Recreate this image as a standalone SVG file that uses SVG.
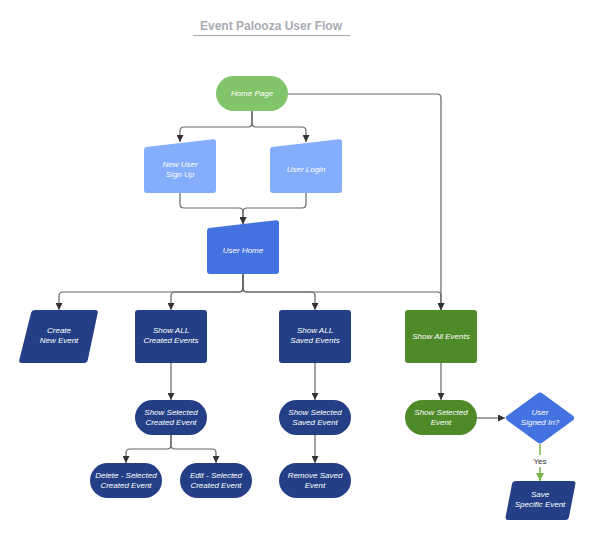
<svg xmlns="http://www.w3.org/2000/svg" width="594" height="538" viewBox="0 0 594 538">
<defs>
<marker id="arr" viewBox="0 0 10 10" refX="10" refY="5" markerWidth="7" markerHeight="7" markerUnits="userSpaceOnUse" orient="auto"><path d="M0,0 L10,5 L0,10 Z" fill="#333"/></marker>
<marker id="arrg" viewBox="0 0 10 10" refX="10" refY="5" markerWidth="8" markerHeight="8" markerUnits="userSpaceOnUse" orient="auto"><path d="M0,0 L10,5 L0,10 Z" fill="#7ab648"/></marker>
</defs>
<style>
.t{font-family:"Liberation Sans",Arial,sans-serif;font-size:8px;font-style:italic;fill:#fff;text-anchor:middle}
.c{fill:none;stroke:#666;stroke-width:1.2;marker-end:url(#arr)}
.lg{fill:#82c46a}.lb{fill:#84adfb}.mb{fill:#4472e0}.db{fill:#243f86}.gr{fill:#4f8a29}
</style>
<rect width="594" height="538" fill="#fff"/>
<g id="title">
<text x="271" y="30" font-family="Liberation Sans,Arial,sans-serif" font-size="12" font-weight="bold" fill="#a8abb2" text-anchor="middle">Event Palooza User Flow</text>
<line x1="193" y1="35.5" x2="350" y2="35.5" stroke="#a8abb2" stroke-width="1"/>
</g>
<g id="connectors">
<path class="c" d="M252,111 V123 Q252,127 248,127 H184 Q180,127 180,131 V142"/>
<path class="c" d="M252,111 V123 Q252,127 256,127 H302 Q306,127 306,131 V142"/>
<path class="c" d="M180,193 V204 Q180,208 184,208 H239 Q243,208 243,212 V224"/>
<path class="c" d="M306,193 V204 Q306,208 302,208 H247 Q243,208 243,212 V224"/>
<path class="c" d="M243,274 V288 Q243,292 239,292 H63 Q59,292 59,296 V310"/>
<path class="c" d="M243,274 V288 Q243,292 239,292 H175 Q171,292 171,296 V310"/>
<path class="c" d="M243,274 V288 Q243,292 247,292 H311 Q315,292 315,296 V310"/>
<path class="c" d="M243,274 V288 Q243,292 247,292 H437 Q441,292 441,296 V310"/>
<path class="c" d="M288,94 H437 Q441,94 441,98 V310"/>
<path class="c" d="M171,363 V400"/>
<path class="c" d="M315,363 V400"/>
<path class="c" d="M441,363 V400"/>
<path class="c" d="M171,435 V445 Q171,449 167,449 H130 Q126,449 126,453 V463"/>
<path class="c" d="M171,435 V445 Q171,449 175,449 H212 Q216,449 216,453 V463"/>
<path class="c" d="M315,435 V463"/>
<path class="c" d="M477,418 H505"/>
<path d="M540,444 V481" fill="none" stroke="#7ab648" stroke-width="1.5" marker-end="url(#arrg)"/>
<rect x="530" y="455" width="20" height="12" fill="#fff"/>
<text x="540" y="464" font-family="Liberation Sans,Arial,sans-serif" font-size="8" fill="#333" text-anchor="middle">Yes</text>
</g>
<g id="home-page"><rect class="lg" x="216" y="76" width="72" height="35" rx="17.5"/><text class="t" x="252" y="96">Home Page</text></g>
<g id="new-user-signup"><path class="lb" d="M146,147 L213,139.3 Q216,139 216,142 V190 Q216,193 213,193 H147 Q144,193 144,190 V150 Q144,147.2 146,147 Z"/><text class="t" x="180" y="167">New User</text><text class="t" x="180" y="177">Sign Up</text></g>
<g id="user-login"><path class="lb" d="M272,147 L339,139.3 Q342,139 342,142 V190 Q342,193 339,193 H273 Q270,193 270,190 V150 Q270,147.2 272,147 Z"/><text class="t" x="306" y="172">User Login</text></g>
<g id="user-home"><path class="mb" d="M209,228 L276,220.3 Q279,220 279,223 V271 Q279,274 276,274 H210 Q207,274 207,271 V231 Q207,228.2 209,228 Z"/><text class="t" x="243" y="253">User Home</text></g>
<g id="create-new-event"><path class="db" d="M35,310 H95 Q98.5,310 97.7,313 L87.8,360 Q87,363 84,363 H22 Q18.5,363 19.3,360 L31,313 Q32,310 35,310 Z"/><text class="t" x="59" y="333">Create</text><text class="t" x="59" y="343">New Event</text></g>
<g id="show-all-created"><rect class="db" x="135" y="310" width="72" height="53" rx="3"/><text class="t" x="171" y="333">Show ALL</text><text class="t" x="171" y="343">Created Events</text></g>
<g id="show-all-saved"><rect class="db" x="279" y="310" width="72" height="53" rx="3"/><text class="t" x="315" y="333">Show ALL</text><text class="t" x="315" y="343">Saved Events</text></g>
<g id="show-all-events"><rect class="gr" x="405" y="310" width="72" height="53" rx="3"/><text class="t" x="441" y="339">Show All Events</text></g>
<g id="show-selected-created"><rect class="db" x="135" y="400" width="72" height="35" rx="17.5"/><text class="t" x="171" y="415">Show Selected</text><text class="t" x="171" y="425">Created Event</text></g>
<g id="show-selected-saved"><rect class="db" x="279" y="400" width="72" height="35" rx="17.5"/><text class="t" x="315" y="415">Show Selected</text><text class="t" x="315" y="425">Saved Event</text></g>
<g id="show-selected-event"><rect class="gr" x="405" y="400" width="72" height="35" rx="17.5"/><text class="t" x="441" y="415">Show Selected</text><text class="t" x="441" y="425">Event</text></g>
<g id="user-signed-in"><path class="mb" d="M537.5,393.5 Q540,391.5 542.5,393.5 L573,415.8 Q575.5,418 573,420.2 L542.5,442.5 Q540,444.5 537.5,442.5 L507,420.2 Q504.5,418 507,415.8 Z"/><text class="t" x="540" y="415">User</text><text class="t" x="540" y="425">Signed In?</text></g>
<g id="delete-selected"><rect class="db" x="90" y="463" width="72" height="35" rx="17.5"/><text class="t" x="126" y="478">Delete - Selected</text><text class="t" x="126" y="488">Created Event</text></g>
<g id="edit-selected"><rect class="db" x="180" y="463" width="72" height="35" rx="17.5"/><text class="t" x="216" y="478">Edit - Selected</text><text class="t" x="216" y="488">Created Event</text></g>
<g id="remove-saved"><rect class="db" x="279" y="463" width="72" height="35" rx="17.5"/><text class="t" x="315" y="478">Remove Saved</text><text class="t" x="315" y="488">Event</text></g>
<g id="save-specific"><path class="db" d="M516,481 H573 Q576,481 575.4,484 L569,517 Q568.4,520 565.4,520 H508 Q505,520 505.6,517 L512,484 Q512.6,481 516,481 Z"/><text class="t" x="540" y="497">Save</text><text class="t" x="540" y="507">Specific Event</text></g>
</svg>
